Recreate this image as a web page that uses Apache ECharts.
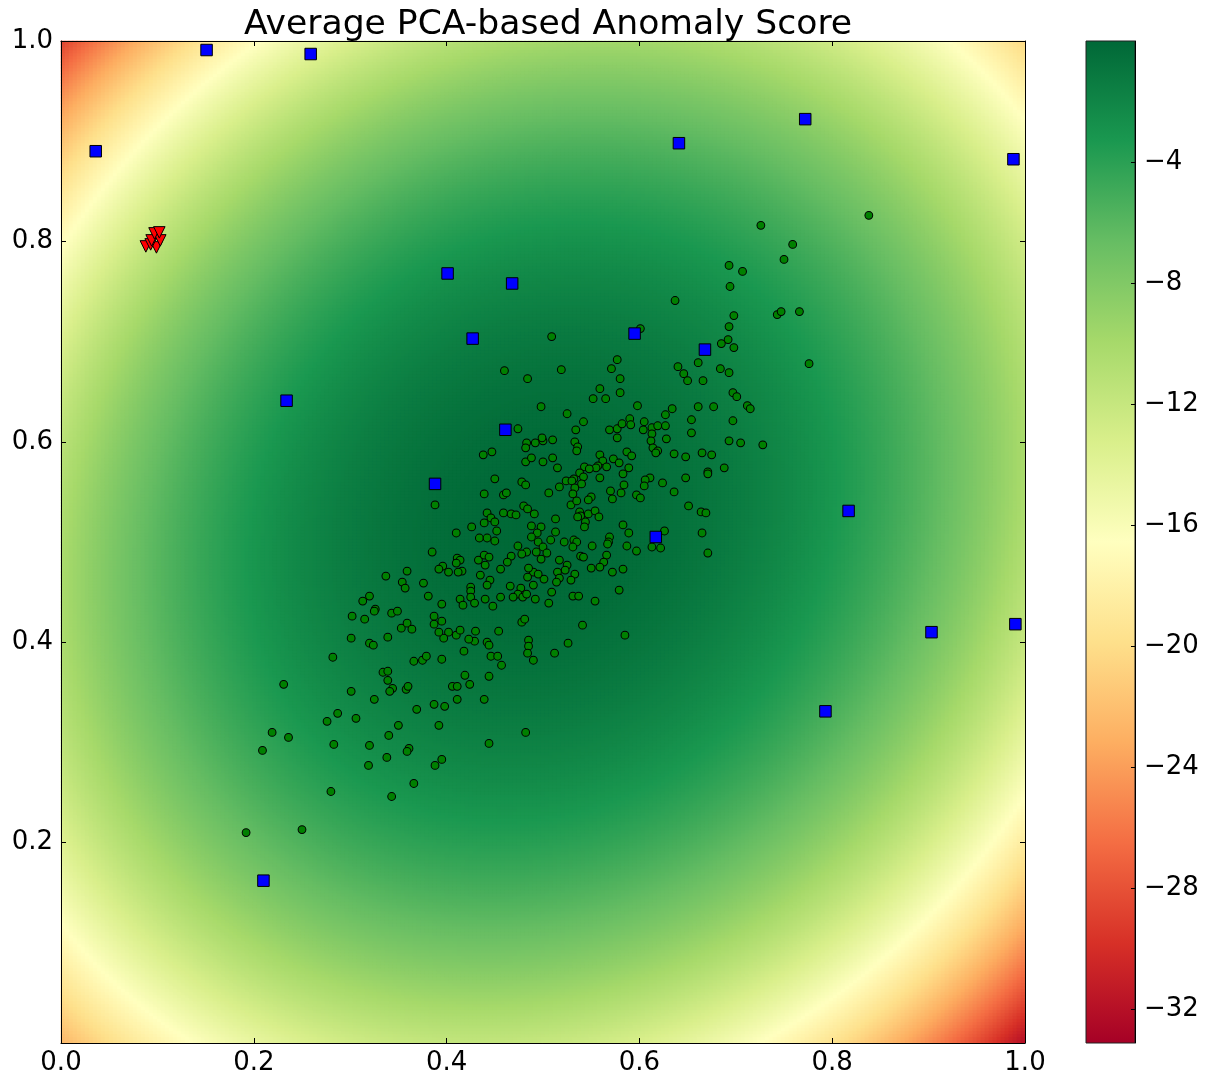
<!DOCTYPE html>
<html>
<head>
<meta charset="utf-8">
<script src="https://cdn.jsdelivr.net/npm/echarts@6/dist/echarts.min.js"></script>
<style>
  html, body { margin: 0; padding: 0; background: #ffffff; }
  #chart { width: 1212px; height: 1078px; }
</style>
</head>
<body>
<div id="chart"></div>
<script>
// ---- axis ticks ----
const xTicks = [0, 0.2, 0.4, 0.6, 0.8, 1.0];
const yTicks = [0.2, 0.4, 0.6, 0.8, 1.0];
const colorbarTicks = [-32, -28, -24, -20, -16, -12, -8, -4];

// ---- score surface: PCA model (centre, principal-axis angle, axis scales, coefficients) ----
const scoreRange = [-33.1, 0];
const scoreCenter = [0.50, 0.52];
const scoreAxisAngle = 40;           // degrees
const scoreAxisScale = [0.64, 0.56]; // major, minor
const scoreCoef = [12, 4.5];         // linear and squared weight of the Mahalanobis term
const surfaceCols = 241;
const surfaceRows = 334;

// RdYlGn colour map, low -> high
const rdYlGn = ['#a50026', '#d73027', '#f46d43', '#fdae61', '#fee08b', '#ffffbf',
                '#d9ef8b', '#a6d96a', '#66bd63', '#1a9850', '#006837'];

// ---- observations ----
const inlierPoints = [
  [0.460,0.671],[0.484,0.663],
  [0.838,0.826],[0.726,0.816],[0.759,0.797],[0.750,0.782],[0.693,0.776],[0.707,0.770],[0.694,0.755],[0.637,0.741],
  [0.743,0.727],[0.747,0.730],[0.766,0.730],[0.698,0.726],[0.693,0.715],[0.601,0.713],[0.509,0.705],[0.692,0.702],
  [0.685,0.698],[0.698,0.694],[0.519,0.672],[0.577,0.682],[0.571,0.673],[0.640,0.675],[0.661,0.679],[0.684,0.673],
  [0.693,0.669],[0.776,0.678],[0.646,0.668],[0.650,0.661],[0.666,0.661],[0.580,0.663],[0.697,0.649],[0.701,0.645],
  [0.712,0.636],[0.715,0.633],[0.634,0.633],[0.661,0.635],[0.677,0.635],[0.697,0.621],[0.654,0.622],[0.654,0.609],
  [0.693,0.601],[0.705,0.599],[0.728,0.597],[0.665,0.589],[0.675,0.587],[0.648,0.585],[0.636,0.588],[0.688,0.574],
  [0.671,0.570],[0.671,0.568],[0.648,0.564],[0.636,0.550],[0.651,0.536],
  [0.664,0.530],[0.669,0.529],[0.665,0.509],[0.671,0.489],[0.541,0.417],[0.585,0.407],[0.526,0.399],[0.512,0.389],
  [0.474,0.613],[0.438,0.587],[0.447,0.590],[0.483,0.599],[0.482,0.594],[0.482,0.580],[0.450,0.563],[0.478,0.560],[0.482,0.557],
  [0.559,0.653],[0.580,0.649],[0.552,0.643],[0.565,0.643],[0.498,0.635],[0.525,0.628],[0.598,0.636],[0.542,0.620],
  [0.534,0.612],[0.627,0.627],[0.627,0.616],[0.605,0.620],[0.604,0.612],[0.613,0.614],[0.619,0.616],[0.613,0.608],
  [0.612,0.601],[0.628,0.603],[0.614,0.594],[0.619,0.591],[0.617,0.589],[0.569,0.612],[0.577,0.613],[0.582,0.618],
  [0.590,0.623],[0.591,0.617],[0.577,0.604],[0.492,0.599],[0.500,0.601],[0.499,0.604],[0.510,0.602],[0.533,0.600],
  [0.536,0.595],[0.535,0.591],[0.488,0.584],[0.500,0.580],[0.510,0.584],[0.515,0.574],[0.559,0.587],[0.562,0.581],
  [0.573,0.583],[0.579,0.579],[0.566,0.575],[0.557,0.576],[0.555,0.574],[0.543,0.575],[0.548,0.573],[0.538,0.569],
  [0.542,0.565],[0.587,0.590],[0.592,0.586],[0.589,0.574],[0.583,0.568],[0.559,0.564],[0.532,0.563],[0.524,0.561],
  [0.530,0.561],[0.540,0.558],[0.517,0.555],[0.584,0.557],[0.611,0.564],[0.606,0.562],[0.605,0.556],[0.624,0.559],[0.533,0.554],
  [0.506,0.549],[0.531,0.548],[0.550,0.545],[0.547,0.542],[0.570,0.551],[0.572,0.543],[0.581,0.549],[0.597,0.547],
  [0.601,0.544],[0.529,0.537],[0.535,0.541],[0.491,0.528],[0.513,0.523],[0.538,0.530],[0.539,0.526],[0.536,0.525],
  [0.547,0.528],[0.554,0.531],[0.558,0.525],[0.544,0.520],[0.543,0.515],[0.488,0.516],[0.498,0.515],[0.494,0.509],
  [0.488,0.505],[0.513,0.510],[0.508,0.502],[0.495,0.500],[0.500,0.495],[0.493,0.490],[0.504,0.489],[0.498,0.483],
  [0.522,0.500],[0.532,0.502],[0.535,0.500],[0.531,0.495],[0.551,0.496],[0.569,0.505],[0.568,0.500],[0.567,0.498],
  [0.583,0.517],[0.589,0.509],[0.587,0.496],[0.597,0.491],[0.539,0.486],[0.542,0.485],[0.566,0.487],[0.563,0.480],
  [0.559,0.475],[0.550,0.474],[0.517,0.482],[0.525,0.477],[0.523,0.472],[0.515,0.470],[0.533,0.468],[0.529,0.462],
  [0.517,0.464],[0.514,0.460],[0.501,0.463],[0.490,0.470],[0.495,0.468],[0.490,0.457],[0.572,0.470],[0.583,0.473],
  [0.579,0.452],[0.509,0.450],[0.531,0.446],[0.537,0.446],[0.554,0.441],[0.492,0.443],[0.506,0.439],[0.613,0.495],
  [0.622,0.494],[0.626,0.511],
  [0.439,0.548],[0.459,0.547],[0.462,0.549],[0.480,0.536],[0.484,0.533],[0.388,0.537],[0.442,0.529],[0.446,0.524],
  [0.450,0.520],[0.439,0.519],[0.459,0.529],[0.467,0.528],[0.472,0.527],[0.426,0.515],[0.410,0.509],[0.452,0.511],
  [0.434,0.504],[0.442,0.504],[0.450,0.501],[0.474,0.496],[0.483,0.490],[0.478,0.488],[0.467,0.486],[0.463,0.480],
  [0.385,0.490],[0.433,0.482],[0.439,0.487],[0.444,0.485],[0.440,0.477],[0.411,0.484],[0.414,0.482],[0.410,0.479],
  [0.416,0.471],[0.412,0.470],[0.396,0.476],[0.392,0.473],[0.402,0.470],[0.359,0.471],[0.456,0.473],[0.485,0.474],
  [0.484,0.465],[0.435,0.467],[0.445,0.462],[0.442,0.457],[0.354,0.460],[0.357,0.454],[0.376,0.459],[0.425,0.455],
  [0.425,0.451],[0.425,0.445],[0.466,0.456],[0.477,0.454],[0.474,0.448],[0.479,0.445],[0.469,0.445],[0.483,0.448],
  [0.381,0.446],[0.414,0.443],[0.417,0.437],[0.429,0.439],[0.440,0.443],[0.448,0.436],[0.456,0.445],[0.395,0.438],
  [0.337,0.466],[0.320,0.446],[0.313,0.441],[0.326,0.433],[0.325,0.431],[0.302,0.426],[0.315,0.423],[0.343,0.429],
  [0.349,0.431],[0.353,0.414],[0.359,0.419],[0.364,0.413],[0.301,0.404],[0.320,0.399],[0.324,0.397],[0.339,0.405],
  [0.282,0.385],[0.366,0.381],[0.375,0.382],[0.379,0.386],[0.395,0.383],[0.334,0.370],[0.339,0.371],[0.339,0.362],
  [0.344,0.354],[0.341,0.351],[0.358,0.353],[0.360,0.356],[0.231,0.358],[0.301,0.351],[0.325,0.343],[0.369,0.333],
  [0.387,0.338],[0.398,0.336],[0.406,0.356],[0.411,0.356],[0.419,0.367],[0.424,0.358],[0.411,0.343],[0.439,0.343],
  [0.444,0.366],[0.276,0.321],[0.287,0.329],[0.306,0.324],[0.350,0.317],[0.392,0.317],[0.340,0.307],[0.219,0.310],
  [0.236,0.305],[0.209,0.292],[0.283,0.298],[0.320,0.297],[0.361,0.294],[0.359,0.291],[0.338,0.285],[0.319,0.277],
  [0.395,0.283],[0.388,0.277],[0.444,0.299],[0.482,0.310],[0.366,0.259],[0.280,0.251],[0.343,0.246],[0.192,0.210],
  [0.250,0.213],[0.485,0.402],[0.485,0.396],[0.484,0.389],[0.490,0.382],[0.478,0.420],[0.481,0.423],[0.454,0.411],
  [0.442,0.400],[0.444,0.397],[0.429,0.401],[0.423,0.403],[0.418,0.391],[0.446,0.386],[0.453,0.386],[0.457,0.377],
  [0.402,0.410],[0.397,0.404],[0.392,0.410],[0.387,0.418],[0.387,0.426],[0.395,0.421],[0.410,0.407],[0.414,0.412],[0.430,0.411]
];

const outlierPoints = [
  [0.036,0.890],[0.151,0.991],[0.259,0.987],[0.641,0.898],[0.772,0.922],[0.988,0.882],[0.401,0.768],
  [0.468,0.758],[0.427,0.703],[0.595,0.708],[0.668,0.692],[0.234,0.641],[0.461,0.612],[0.388,0.558],
  [0.817,0.531],[0.617,0.505],[0.903,0.410],[0.990,0.418],[0.793,0.331],[0.210,0.162]
];

const clusterPoints = [
  [0.088,0.795],[0.099,0.794],[0.093,0.797],[0.094,0.801],[0.103,0.801],[0.097,0.808],[0.102,0.809]
];

// ---- score surface on a regular grid ----
function anomalyScore(x, y) {
  const dx = x - scoreCenter[0];
  const dy = y - scoreCenter[1];
  const a = scoreAxisAngle * Math.PI / 180;
  const u = (dx * Math.cos(a) + dy * Math.sin(a)) / scoreAxisScale[0];
  const v = (-dx * Math.sin(a) + dy * Math.cos(a)) / scoreAxisScale[1];
  const q = u * u + v * v;
  return -(scoreCoef[0] * q + scoreCoef[1] * q * q);
}
const colIndex = Array.from({ length: surfaceCols }, (_, i) => i);
const rowIndex = Array.from({ length: surfaceRows }, (_, j) => j);
const surface = [];
for (let i = 0; i < surfaceCols; i++) {
  for (let j = 0; j < surfaceRows; j++) {
    surface.push([i, j, anomalyScore((i + 0.5) / surfaceCols, (j + 0.5) / surfaceRows)]);
  }
}

// ---- chart ----
const FONT = 'DejaVu Sans';
const plotBox = { left: 61, top: 41, width: 964, height: 1002 };
const barBox = { left: 1086, top: 41, width: 49, height: 1002 };
const labelStyle = { fontSize: 26, color: '#000', fontFamily: FONT };
const fmt1 = v => (Math.round(v * 10) / 10).toFixed(1);

function frameAxis(base) {
  return Object.assign({
    gridIndex: 1, type: 'value', min: 0, max: 1, interval: 0.2, z: 10,
    axisLine: { show: true, onZero: false, lineStyle: { color: '#000', width: 1 } },
    axisTick: { show: true, inside: true, length: 5, lineStyle: { color: '#000', width: 1 } },
    splitLine: { show: false }
  }, base);
}

const chart = echarts.init(document.getElementById('chart'), null, { renderer: 'canvas', width: 1212, height: 1078 });

chart.setOption({
  animation: false,
  backgroundColor: '#ffffff',
  title: {
    text: 'Average PCA-based Anomaly Score',
    left: 543, top: 3, textAlign: 'center',
    textStyle: { fontSize: 34.6, fontWeight: 'normal', color: '#000', fontFamily: FONT }
  },
  grid: [
    Object.assign({ outerBoundsMode: 'none', containLabel: false }, plotBox),
    Object.assign({ outerBoundsMode: 'none', containLabel: false }, plotBox),
    Object.assign({ outerBoundsMode: 'none', containLabel: false }, barBox)
  ],
  xAxis: [
    { gridIndex: 0, type: 'category', data: colIndex, show: false, boundaryGap: true },
    frameAxis({ position: 'bottom',
      axisLabel: Object.assign({ show: true, margin: 7, formatter: fmt1, showMinLabel: true, showMaxLabel: true }, labelStyle) }),
    frameAxis({ position: 'top', axisLabel: { show: false } }),
    { gridIndex: 2, type: 'value', min: 0, max: 1, show: false }
  ],
  yAxis: [
    { gridIndex: 0, type: 'category', data: rowIndex, show: false, boundaryGap: true },
    frameAxis({ position: 'left',
      axisLabel: Object.assign({ show: true, margin: 8, showMinLabel: true, showMaxLabel: true,
        formatter: v => (yTicks.some(t => Math.abs(t - v) < 1e-9) ? fmt1(v) : '') }, labelStyle) }),
    frameAxis({ position: 'right', axisLabel: { show: false } }),
    {
      gridIndex: 2, type: 'value', min: scoreRange[0], max: scoreRange[1], position: 'right', z: 10,
      axisLine: { show: true, onZero: false, lineStyle: { color: '#000', width: 1 } },
      axisTick: { show: true, inside: true, length: 4, customValues: colorbarTicks, lineStyle: { color: '#000' } },
      axisLabel: Object.assign({ show: true, margin: 9, customValues: colorbarTicks,
        formatter: v => (v < 0 ? '\u2212' + Math.abs(v) : String(v)) }, labelStyle),
      splitLine: { show: false }
    }
  ],
  visualMap: {
    type: 'continuous', show: false, seriesIndex: 0, dimension: 2,
    min: scoreRange[0], max: scoreRange[1],
    inRange: { color: rdYlGn }
  },
  series: [
    {
      type: 'heatmap', xAxisIndex: 0, yAxisIndex: 0, data: surface,
      progressive: 0, silent: true, itemStyle: { borderWidth: 0 }, emphasis: { disabled: true }
    },
    {
      type: 'scatter', name: 'inliers', xAxisIndex: 1, yAxisIndex: 1, data: inlierPoints,
      symbol: 'circle', symbolSize: 7.8, silent: true,
      itemStyle: { color: '#008000', borderColor: '#000', borderWidth: 1, opacity: 1 }
    },
    {
      type: 'scatter', name: 'outliers', xAxisIndex: 1, yAxisIndex: 1, data: outlierPoints,
      symbol: 'rect', symbolSize: 11.5, silent: true,
      itemStyle: { color: '#0000ff', borderColor: '#000', borderWidth: 1, opacity: 1 }
    },
    {
      type: 'scatter', name: 'cluster', xAxisIndex: 1, yAxisIndex: 1, data: clusterPoints,
      symbol: 'triangle', symbolRotate: 180, symbolSize: 11.5, silent: true,
      itemStyle: { color: '#ff0000', borderColor: '#000', borderWidth: 1, opacity: 1 }
    },
    {
      type: 'custom', xAxisIndex: 3, yAxisIndex: 3, silent: true,
      data: [[0, scoreRange[0], 1, scoreRange[1]]],
      encode: { x: [0, 2], y: [1, 3] },
      renderItem: (params, api) => {
        const p0 = api.coord([api.value(0), api.value(1)]);
        const p1 = api.coord([api.value(2), api.value(3)]);
        const stops = rdYlGn.map((c, k) => ({ offset: k / (rdYlGn.length - 1), color: c }));
        return {
          type: 'rect',
          shape: { x: p0[0], y: p1[1], width: p1[0] - p0[0], height: p0[1] - p1[1] },
          style: { fill: new echarts.graphic.LinearGradient(0, 1, 0, 0, stops), stroke: '#222', lineWidth: 1 }
        };
      }
    }
  ]
});
</script>
</body>
</html>
